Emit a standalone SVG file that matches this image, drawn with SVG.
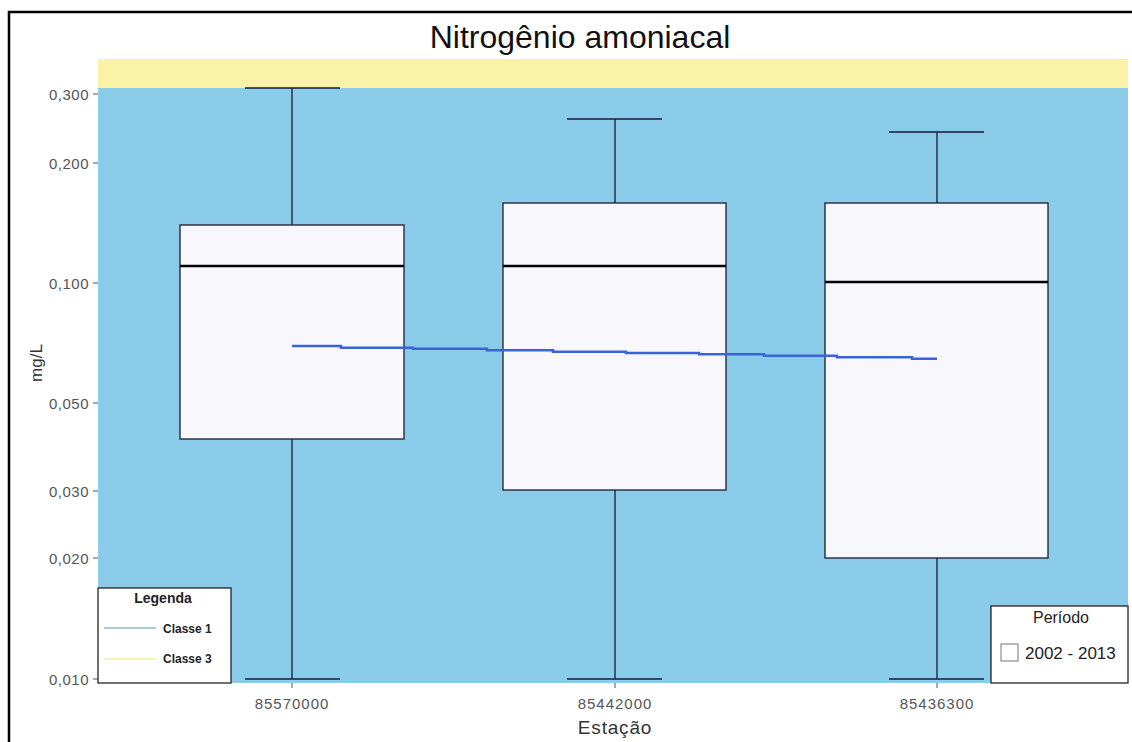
<svg xmlns="http://www.w3.org/2000/svg" width="1132" height="742" viewBox="0 0 1132 742">
  <style>
    .tick { stroke: #555; stroke-width: 1; }
    .ylab { font-family: "Liberation Sans", Arial, sans-serif; font-size: 15px; fill: #555; text-anchor: end; letter-spacing: 0.5px; }
    .xlab { font-family: "Liberation Sans", Arial, sans-serif; font-size: 15px; fill: #555; text-anchor: middle; letter-spacing: 1px; }
    .box { fill: #F8F8FC; stroke: #1a1a2e; stroke-width: 1.3; }
    .whisker { stroke: #1a1a3a; stroke-width: 1.3; fill: none; }
    .median { stroke: #000; stroke-width: 2.5; }
    .legbox { fill: #fff; stroke: #222; stroke-width: 1.3; }
    .legtxt { font-family: "Liberation Sans", Arial, sans-serif; fill: #222; }
  </style>

  <!-- page background and frame -->
  <rect x="0" y="0" width="1132" height="742" fill="#fff"/>
  <path d="M9 742 V12 H1132" fill="none" stroke="#000" stroke-width="2.5"/>

  <!-- title -->
  <text x="580" y="48" font-family="Liberation Sans, Arial, sans-serif" font-size="32" fill="#111" text-anchor="middle">Nitrogênio amoniacal</text>

  <!-- classification bands -->
  <rect x="98" y="59" width="1030" height="29" fill="#FAF2A6"/>
  <rect x="98" y="88" width="1030" height="595" fill="#89CBE8"/>

  <!-- y axis (log scale) -->
  <g id="y-axis">
    <line class="tick" x1="93" y1="94" x2="98" y2="94"/>
    <line class="tick" x1="93" y1="163" x2="98" y2="163"/>
    <line class="tick" x1="93" y1="283" x2="98" y2="283"/>
    <line class="tick" x1="93" y1="403" x2="98" y2="403"/>
    <line class="tick" x1="93" y1="491" x2="98" y2="491"/>
    <line class="tick" x1="93" y1="558" x2="98" y2="558"/>
    <line class="tick" x1="93" y1="679" x2="98" y2="679"/>
    <text class="ylab" x="89" y="100">0,300</text>
    <text class="ylab" x="89" y="169">0,200</text>
    <text class="ylab" x="89" y="289">0,100</text>
    <text class="ylab" x="89" y="409">0,050</text>
    <text class="ylab" x="89" y="497">0,030</text>
    <text class="ylab" x="89" y="564">0,020</text>
    <text class="ylab" x="89" y="685">0,010</text>
    <text x="42" y="363" transform="rotate(-90 42 363)" font-family="Liberation Sans, Arial, sans-serif" font-size="17" fill="#333" text-anchor="middle">mg/L</text>
  </g>

  <!-- x axis -->
  <g id="x-axis">
    <line class="tick" x1="292" y1="683" x2="292" y2="688"/>
    <line class="tick" x1="615" y1="683" x2="615" y2="688"/>
    <line class="tick" x1="937" y1="683" x2="937" y2="688"/>
    <text class="xlab" x="292" y="709">85570000</text>
    <text class="xlab" x="615" y="709">85442000</text>
    <text class="xlab" x="937" y="709">85436300</text>
    <text x="615" y="734" font-family="Liberation Sans, Arial, sans-serif" font-size="19" fill="#333" text-anchor="middle" letter-spacing="0.8">Estação</text>
  </g>

  <!-- station 85570000 -->
  <g id="box-85570000">
    <path class="whisker" d="M245 88 H340 M292 88 V225 M292 439 V679 M245 679 H340"/>
    <rect class="box" x="180" y="225" width="224" height="214"/>
    <line class="median" x1="180" y1="266" x2="404" y2="266"/>
  </g>

  <!-- station 85442000 -->
  <g id="box-85442000">
    <path class="whisker" d="M567 119 H662 M615 119 V203 M615 490 V679 M567 679 H662"/>
    <rect class="box" x="503" y="203" width="223" height="287"/>
    <line class="median" x1="503" y1="266" x2="726" y2="266"/>
  </g>

  <!-- station 85436300 -->
  <g id="box-85436300">
    <path class="whisker" d="M889 132 H984 M937 132 V203 M937 558 V679 M889 679 H984"/>
    <rect class="box" x="825" y="203" width="223" height="355"/>
    <line class="median" x1="825" y1="282" x2="1048" y2="282"/>
  </g>

  <!-- trend line -->
  <g id="connectors">
    <path d="M292 346 H341 V347.7 H413 V348.7 H487 V350.3 H553 V351.7 H626 V353 H699 V354.3 H764 V355.7 H837 V357.3 H912 V358.7 H937" fill="none" stroke="#3A63D8" stroke-width="2.5"/>
  </g>

  <!-- class legend -->
  <g id="legend-classe">
    <rect class="legbox" x="98" y="588" width="133" height="95"/>
    <text class="legtxt" x="163" y="603" font-size="14" font-weight="bold" text-anchor="middle">Legenda</text>
    <line x1="104" y1="628" x2="156" y2="628" stroke="#8DB8D8" stroke-width="1.5"/>
    <text class="legtxt" x="163" y="633" font-size="12" font-weight="bold" fill="#333">Classe 1</text>
    <line x1="104" y1="659" x2="156" y2="659" stroke="#F6EFA2" stroke-width="1.5"/>
    <text class="legtxt" x="163" y="663" font-size="12" font-weight="bold" fill="#333">Classe 3</text>
  </g>

  <!-- period legend -->
  <g id="legend-periodo">
    <rect class="legbox" x="991" y="606" width="137" height="77"/>
    <text class="legtxt" x="1061" y="623" font-size="16" text-anchor="middle">Período</text>
    <rect x="1001" y="644" width="17" height="17" fill="#fff" stroke="#777" stroke-width="1"/>
    <text class="legtxt" x="1025" y="659" font-size="17">2002 - 2013</text>
  </g>
</svg>
